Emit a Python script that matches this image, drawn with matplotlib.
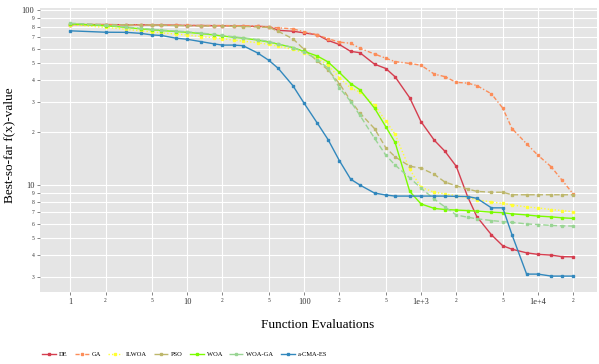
import numpy as np
import matplotlib
matplotlib.use("Agg")
import matplotlib.pyplot as plt
from matplotlib.ticker import FixedLocator, FixedFormatter

plt.rcParams['font.family'] = ['Liberation Serif', 'DejaVu Serif']

# function evaluations (shared grid)
evals = [1, 2, 3, 4, 5, 6, 8, 10, 13, 17, 20, 25, 30, 40, 50, 60, 80, 100, 130, 160,
         200, 250, 300, 400, 500, 600, 800, 1000, 1300, 1600, 2000, 2500, 3000, 4000,
         5000, 6000, 8000, 10000, 13000, 16000, 20000]

de = [82.5, 82.5, 82.3, 82.3, 82, 82, 81.8, 81.5, 81.5, 81.3, 81.3, 81, 80.8, 80.5, 80.3,
      76.5, 75.6, 74, 72, 67, 63.5, 58, 57, 49, 46.3, 41.5, 31.5, 23, 18, 15.6, 12.8, 8.6,
      6.6, 5.2, 4.5, 4.3, 4.1, 4.02, 3.98, 3.9, 3.89]
ga = [82.5, 82.5, 82.3, 82.3, 82, 82, 81.8, 81.7, 81.5, 81.5, 81.5, 81.3, 81.3, 81, 79.8,
      79, 78, 75, 72, 68.5, 65.5, 64.5, 60.4, 56, 53, 50.7, 49.5, 48.3, 43, 41.6, 38.6, 38.2,
      37, 33.2, 27.5, 21, 17.2, 14.8, 12.7, 10.7, 8.9]
ilwoa = [82.5, 79.5, 77.5, 76, 75, 74, 72.8, 72, 70.5, 69.5, 68.5, 67.3, 66.3, 65, 63.5,
         62, 59.5, 57, 53, 48.5, 41, 35.8, 34, 28.6, 23.2, 19.5, 12.3, 9.7, 9.1, 8.9, 8.7,
         8.5, 8.25, 8.0, 7.85, 7.7, 7.5, 7.4, 7.25, 7.15, 7.04]
pso = [83.5, 82.5, 82.3, 82, 82, 81.8, 81.5, 81.3, 81, 81, 80.8, 80.5, 80.3, 80, 79.5,
       75.5, 68.5, 59.5, 51, 45.5, 38, 30.3, 25.8, 21, 16.3, 14.5, 12.8, 12.5, 11.5, 10.4,
       9.9, 9.5, 9.2, 9.1, 9.1, 8.8, 8.8, 8.8, 8.8, 8.8, 8.8]
woa = [83.3, 81.3, 79.5, 78, 77, 76.3, 75.3, 74.5, 73.3, 72, 71, 69.8, 69, 67.3, 65.5,
       63.8, 61, 58, 54.5, 50.5, 44, 38, 35, 27.5, 21.5, 17.5, 9.2, 7.8, 7.35, 7.25, 7.2,
       7.15, 7.1, 7.0, 6.95, 6.85, 6.75, 6.65, 6.58, 6.5, 6.45]
woa_ga = [84, 81.8, 80, 78.5, 77.5, 76.8, 75.8, 75, 73.8, 72.5, 71.5, 70.3, 69.3, 67.8, 66,
          64, 61, 57.5, 52, 46.5, 36, 30, 25, 18.5, 14.8, 13, 11, 9.6, 8.3, 7.5, 6.75, 6.55,
          6.42, 6.27, 6.18, 6.12, 6.0, 5.95, 5.88, 5.85, 5.83]
cmaes = [76, 74.6, 74.5, 73.5, 72, 71.5, 69, 68, 66, 64, 63, 63, 62.5, 56.8, 51.5, 46.4,
         37, 29.3, 22.5, 18.2, 13.8, 10.8, 10, 9.0, 8.77, 8.65, 8.65, 8.65, 8.65, 8.65, 8.62,
         8.6, 8.4, 7.41, 7.41, 5.2, 3.1, 3.1, 3.02, 3.02, 3.02]

series = [
    ("DE", de, '#D53E4F', '-'),
    ("GA", ga, '#FC8D59', (0, (3, 1.5, 1, 1.5))),
    ("ILWOA", ilwoa, '#FFFF33', (0, (1, 1.5))),
    ("PSO", pso, '#BDB76B', (0, (4, 2))),
    ("WOA", woa, '#7CFC00', '-'),
    ("WOA-GA", woa_ga, '#99D594', (0, (4, 2))),
    ("a-CMA-ES", cmaes, '#3288BD', '-'),
]

fig = plt.figure(figsize=(5.99, 3.64), dpi=100)
ax = fig.add_axes([40 / 599, 1 - 292 / 364, 557 / 599, 284 / 364])
ax.set_facecolor('#E5E5E5')

for name, vals, col, ls in series:
    ax.plot(evals, vals, color=col, linestyle=ls, lw=1.0, marker='s', markersize=1.6,
            label=name)

ax.set_xscale('log')
ax.set_yscale('log')
ax.set_xlim(0.55, 32000)
ax.set_ylim(2.45, 102.6)

xmaj = [1, 10, 100, 1000, 10000]
xmin = [2, 5, 20, 50, 200, 500, 2000, 5000, 20000]
ax.xaxis.set_major_locator(FixedLocator(xmaj))
ax.xaxis.set_major_formatter(FixedFormatter(['1', '10', '100', '1e+3', '1e+4']))
ax.xaxis.set_minor_locator(FixedLocator(xmin))
ax.xaxis.set_minor_formatter(FixedFormatter(['2', '5'] * 4 + ['2']))

ymaj = [10, 100]
ymin = [3, 4, 5, 6, 7, 8, 9, 20, 30, 40, 50, 60, 70, 80, 90]
ax.yaxis.set_major_locator(FixedLocator(ymaj))
ax.yaxis.set_major_formatter(FixedFormatter(['10', '100']))
ax.yaxis.set_minor_locator(FixedLocator(ymin))
ax.yaxis.set_minor_formatter(FixedFormatter(['3', '4', '5', '6', '7', '8', '9',
                                             '2', '3', '4', '5', '6', '7', '8', '9']))

ax.tick_params(which='major', labelsize=6, length=2, width=0.5, color='#555555',
               labelcolor='#333333', pad=2)
ax.tick_params(which='minor', labelsize=4, length=2, width=0.5, color='#555555',
               labelcolor='#333333', pad=2)
ax.grid(which='both', color='white', lw=0.8)
ax.set_axisbelow(True)
for s in ax.spines.values():
    s.set_visible(False)

ax.set_ylabel('Best-so-far f(x)-value', fontsize=9.5)
ax.yaxis.set_label_coords(-25 / 557, (292 - 145) / 284)
fig.text(318 / 599, 1 - 325 / 364, 'Function Evaluations', fontsize=9.5,
         ha='center', va='center')

fig.legend(loc='center left', bbox_to_anchor=(42 / 599, 1 - 354 / 364), ncol=7,
           frameon=False, fontsize=4.7, handlelength=2.15, handletextpad=0.45,
           columnspacing=1.1, borderpad=0, borderaxespad=0)

fig.savefig('out.png', dpi=100)
